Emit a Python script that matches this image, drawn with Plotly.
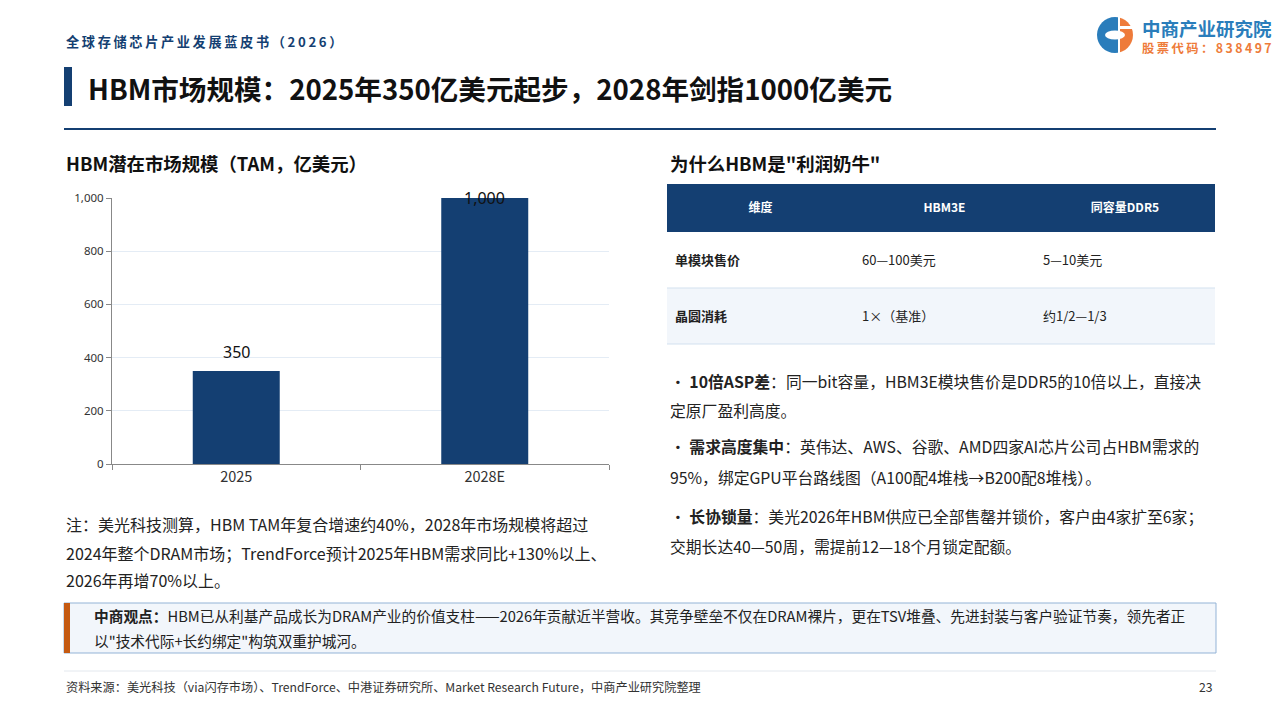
import plotly.graph_objects as go

# ---------------- data ----------------
categories = ["2025", "2028E"]
tam_values = [350, 1000]
y_ticks = [0, 200, 400, 600, 800, 1000]

table_header = ["维度", "HBM3E", "同容量DDR5"]
table_dim = ["单模块售价", "晶圆消耗"]
table_hbm3e = ["60—100美元", "1×（基准）"]
table_ddr5 = ["5—10美元", "约1/2—1/3"]

bullets = [
    ("10倍ASP差", "：同一bit容量，HBM3E模块售价是DDR5的10倍以上，直接决", "定原厂盈利高度。"),
    ("需求高度集中", "：英伟达、AWS、谷歌、AMD四家AI芯片公司占HBM需求的", "95%，绑定GPU平台路线图（A100配4堆栈→B200配8堆栈）。"),
    ("长协锁量", "：美光2026年HBM供应已全部售罄并锁价，客户由4家扩至6家；", "交期长达40—50周，需提前12—18个月锁定配额。"),
]
note_lines = [
    "注：美光科技测算，HBM TAM年复合增速约40%，2028年市场规模将超过",
    "2024年整个DRAM市场；TrendForce预计2025年HBM需求同比+130%以上、",
    "2026年再增70%以上。",
]
view_title = "中商观点："
view_lines = [
    "HBM已从利基产品成长为DRAM产业的价值支柱——2026年贡献近半营收。其竞争壁垒不仅在DRAM裸片，更在TSV堆叠、先进封装与客户验证节奏，领先者正",
    "以\"技术代际+长约绑定\"构筑双重护城河。",
]
header_text = "全球存储芯片产业发展蓝皮书（2026）"
title_text = "HBM市场规模：2025年350亿美元起步，2028年剑指1000亿美元"
left_sub = "HBM潜在市场规模（TAM，亿美元）"
right_sub = "为什么HBM是\"利润奶牛\""
source_text = "资料来源：美光科技（via闪存市场）、TrendForce、中港证券研究所、Market Research Future，中商产业研究院整理"
page_no = "23"

# ---------------- styles ----------------
W, H = 1280, 720
CJK = "Noto Sans CJK SC"
NAVY = "#143F72"
DARK = "#1a1a1a"
ROW_FILL = "#F2F6FB"


def X(px):
    return px / W


def Y(py):
    return 1 - py / H


fig = go.Figure()

fig.add_trace(go.Bar(
    x=categories, y=tam_values,
    marker=dict(color=NAVY, line=dict(width=0)),
    width=0.35, hoverinfo="skip", showlegend=False,
))

# bar value labels (category index positions)
ymax = max(y_ticks)
for i, v in enumerate(tam_values):
    fig.add_annotation(
        x=i, y=v, xref="x", yref="y", text=f"{v:,}", showarrow=False,
        yanchor="bottom" if v < ymax else "middle", yshift=6 if v < ymax else 0,
        font=dict(family="Noto Sans", size=16, color="#111"),
    )

# table (text only; fills drawn as background shapes)
CLEAR = "rgba(0,0,0,0)"
fig.add_trace(go.Table(
    domain=dict(x=[X(667), X(1215)], y=[Y(354), Y(190)]),
    columnwidth=[187, 181, 180],
    header=dict(
        values=[f"<b>{h}</b>" for h in table_header],
        fill_color=CLEAR, line=dict(color=CLEAR, width=0),
        align="center", height=52,
        font=dict(family=CJK, size=12, color="white"),
    ),
    cells=dict(
        values=[[f"<b>{d}</b>" for d in table_dim],
                [f"<span>{v}</span>" for v in table_hbm3e],
                [f"<span>{v}</span>" for v in table_ddr5]],
        fill_color=CLEAR, line=dict(color=CLEAR, width=0),
        align="left", height=56,
        font=dict(family=CJK, size=13, color="#222"),
    ),
))

shapes = []
# title bar & rule
shapes.append(dict(type="rect", xref="paper", yref="paper", x0=X(64), x1=X(72), y0=Y(106), y1=Y(67),
                   fillcolor=NAVY, line=dict(width=0)))
shapes.append(dict(type="line", xref="paper", yref="paper", x0=X(64), x1=X(1216), y0=Y(129), y1=Y(129),
                   line=dict(color=NAVY, width=2)))
# table backgrounds
shapes.append(dict(type="rect", xref="paper", yref="paper", x0=X(667), x1=X(1215), y0=Y(232), y1=Y(184),
                   fillcolor=NAVY, line=dict(width=0), layer="below"))
shapes.append(dict(type="rect", xref="paper", yref="paper", x0=X(667), x1=X(1215), y0=Y(344), y1=Y(288),
                   fillcolor=ROW_FILL, line=dict(width=0), layer="below"))
for py in (288, 344):
    shapes.append(dict(type="line", xref="paper", yref="paper", x0=X(667), x1=X(1215), y0=Y(py), y1=Y(py),
                       line=dict(color="#D3E1EF", width=1), layer="below"))
# viewpoint box
shapes.append(dict(type="rect", xref="paper", yref="paper", x0=X(64), x1=X(1216), y0=Y(653), y1=Y(603),
                   fillcolor=ROW_FILL, line=dict(color="#93B3D6", width=1)))
shapes.append(dict(type="rect", xref="paper", yref="paper", x0=X(64), x1=X(70), y0=Y(653), y1=Y(603),
                   fillcolor="#C55A11", line=dict(width=0)))
# footer rule
shapes.append(dict(type="line", xref="paper", yref="paper", x0=X(64), x1=X(1216), y0=Y(671), y1=Y(671),
                   line=dict(color="#E3E8EE", width=1)))

# logo
k = 0.5523
cx, cy, r = 1115, 35, 18


def path_right_half():
    s = f"M {X(cx)},{Y(cy - r)} "
    s += f"C {X(cx + k * r)},{Y(cy - r)} {X(cx + r)},{Y(cy - k * r)} {X(cx + r)},{Y(cy)} "
    s += f"C {X(cx + r)},{Y(cy + k * r)} {X(cx + k * r)},{Y(cy + r)} {X(cx)},{Y(cy + r)} Z"
    return s


def path_left_half():
    s = f"M {X(cx + 3)},{Y(cy - r + 0.3)} L {X(cx)},{Y(cy - r)} "
    s += f"C {X(cx - k * r)},{Y(cy - r)} {X(cx - r)},{Y(cy - k * r)} {X(cx - r)},{Y(cy)} "
    s += f"C {X(cx - r)},{Y(cy + k * r)} {X(cx - k * r)},{Y(cy + r)} {X(cx)},{Y(cy + r)} "
    s += f"L {X(cx + 3)},{Y(cy + r - 0.3)} Z"
    return s


shapes.append(dict(type="path", xref="paper", yref="paper", path=path_right_half(),
                   fillcolor="#EE7B3A", line=dict(width=0)))
shapes.append(dict(type="rect", xref="paper", yref="paper", x0=X(1114), x1=X(1120), y0=Y(55), y1=Y(15),
                   fillcolor="white", line=dict(width=0)))
shapes.append(dict(type="rect", xref="paper", yref="paper", x0=X(1119), x1=X(1135), y0=Y(29), y1=Y(26),
                   fillcolor="white", line=dict(width=0)))
shapes.append(dict(type="path", xref="paper", yref="paper", path=path_left_half(),
                   fillcolor="#2A7DBB", line=dict(width=0)))
shapes.append(dict(type="circle", xref="paper", yref="paper", x0=X(1105), x1=X(1125), y0=Y(39.5), y1=Y(30.5),
                   fillcolor="white", line=dict(width=0)))

ann = []


def txt(x, y, t, size, color=DARK, family=CJK, xanchor="left", yanchor="middle"):
    ann.append(dict(x=X(x), y=Y(y), xref="paper", yref="paper", text=t, showarrow=False,
                    xanchor=xanchor, yanchor=yanchor, align="left",
                    font=dict(family=family, size=size, color=color)))


thin = "\u2009"
txt(64, 41, "<b>" + thin.join(header_text) + "</b>", 13.2, color=NAVY)
txt(86, 88, f"<b>{title_text}</b>", 27.6, color="#111")
txt(1140, 28, "<b>中商产业研究院</b>", 18.5, color="#2A7DBB")
txt(1140, 48.5, "<b>" + thin.join("股票代码：838497") + "</b>", 12.3, color="#EE7B3A")
txt(64, 163, f"<b>{left_sub}</b>", 18.4, color="#111")
txt(668, 163, f"<b>{right_sub}</b>", 18.4, color="#111")

bullet_y = [(381, 410), (446, 477), (516, 546)]
for (lead, rest, line2), (y1, y2) in zip(bullets, bullet_y):
    txt(668, y1, f"· <b>{lead}</b>{rest}", 15.8, color="#222")
    txt(668, y2, line2, 15.8, color="#222")

for t, py in zip(note_lines, (524, 553, 580)):
    txt(64, py, t, 16, color="#222")

txt(92, 615, f"<b>{view_title}</b>{view_lines[0]}", 14.7, color="#222")
txt(92, 640, view_lines[1], 14.7, color="#222")

txt(64, 687, source_text, 12.2, color="#333")
txt(1215, 687, page_no, 12.2, color="#333", xanchor="right")

fig.update_layout(
    width=W, height=H,
    margin=dict(l=0, r=0, t=0, b=0, pad=0, autoexpand=False),
    paper_bgcolor="white", plot_bgcolor="rgba(0,0,0,0)",
    shapes=shapes, annotations=fig.layout.annotations + tuple(ann),
    bargap=0.65,
    xaxis=dict(type="category", domain=[X(112), X(609)], range=[-0.5, len(categories) - 0.5],
               showline=True, linecolor="#888", linewidth=1,
               ticks="outside", tickson="boundaries", ticklen=5, tickcolor="#888",
               tickfont=dict(family=CJK, size=14.5, color="#333"), showgrid=False, fixedrange=True),
    yaxis=dict(domain=[Y(464), Y(198)], range=[0, ymax], tickvals=y_ticks, tickformat=",",
               showline=True, linecolor="#888", linewidth=1, ticks="outside", ticklen=5,
               tickcolor="#888", gridcolor="#E4ECF5", gridwidth=1, zeroline=False,
               tickfont=dict(family="Noto Sans", size=11.5, color="#333"), fixedrange=True),
    font=dict(family=CJK),
)

fig.write_html("out.html", config={"displayModeBar": False},
               post_script="document.body.style.margin='0';document.body.style.overflow='hidden';")
